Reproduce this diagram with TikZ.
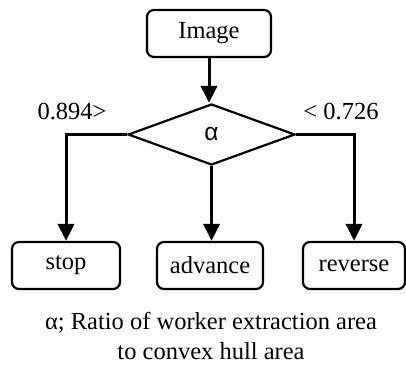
\documentclass[tikz,border=0pt]{standalone}
\usepackage{fontspec}
\setmainfont{Liberation Serif}
\newfontfamily\sansal{Liberation Sans}
\usetikzlibrary{arrows.meta,shapes.geometric}
\begin{document}
\begin{tikzpicture}[x=1pt,y=-1pt,
  txt/.style={font=\fontsize{24.5}{30}\selectfont},
  rbox/.style={txt,draw,line width=2.2pt,rounded corners=7pt,minimum height=47pt,inner sep=0pt},
  dia/.style={draw,diamond,line width=2.2pt,minimum width=167pt,minimum height=61pt,inner sep=0pt,font=\sansal\fontsize{24.5}{30}\selectfont},
  conn/.style={line width=3pt,-{Triangle[width=16pt,length=17pt]}},
  line/.style={line width=3pt}]
\useasboundingbox (0,0) rectangle (406,372);
\node[rbox,minimum width=124pt] (img) at (209,33.5) {Image};
\node[dia] (alpha) at (211.5,134.5) {α};
\node[rbox,minimum width=108pt] (stop) at (66,265.5) {stop};
\node[rbox,minimum width=106pt] (adv) at (210,265.5) {advance};
\node[rbox,minimum width=102pt] (rev) at (354,265.5) {reverse};
\draw[conn] (img.south) -- (img.south |- alpha.north);
\draw[conn] (alpha.west) -| (stop.north);
\draw[conn] (alpha.south) -- (alpha.south |- adv.north);
\draw[conn] (alpha.east) -| (rev.north);
\node[txt,inner sep=0pt] (lo) at (72,112) {0.894>};
\node[txt,inner sep=0pt] (hi) at (341,112) {< 0.726};
\node[txt,align=center,inner sep=0pt] (cap) at (211,336) {α; Ratio of worker extraction area\\to convex hull area};
\end{tikzpicture}
\end{document}
